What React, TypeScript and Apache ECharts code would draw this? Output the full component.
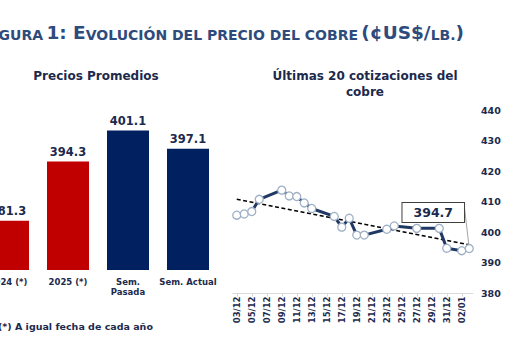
import React, { useEffect, useRef } from 'react';
import * as echarts from 'echarts';

const barCategories = ['2024 (*)', '2025 (*)', 'Sem.\nPasada', 'Sem. Actual'];
const barValues = [381.3, 394.3, 401.1, 397.1];
const barColors = ['#c00000', '#c00000', '#002060', '#002060'];

const dayLabels = [
  '03/12', '04/12', '05/12', '06/12', '07/12', '08/12', '09/12', '10/12',
  '11/12', '12/12', '13/12', '14/12', '15/12', '16/12', '17/12', '18/12',
  '19/12', '20/12', '21/12', '22/12', '23/12', '24/12', '25/12', '26/12',
  '27/12', '28/12', '29/12', '30/12', '31/12', '01/01', '02/01', '03/01',
];
const tradeDays = [
  '03/12', '04/12', '05/12', '06/12', '09/12', '10/12', '11/12', '12/12', '13/12',
  '16/12', '17/12', '18/12', '19/12', '20/12', '23/12', '24/12', '27/12',
  '30/12', '31/12', '02/01', '03/01',
];
const prices = [
  405.6, 406.0, 406.8, 410.8, 413.8, 411.9, 411.7, 409.6, 407.8,
  405.2, 401.7, 404.6, 399.1, 399.1, 401.0, 402.1, 401.3,
  401.3, 394.8, 394.0, 394.7,
];
const trendDays = ['03/12', '03/01'];
const trendValues = [410.8, 395.9];
const yTicks = { min: 380, max: 440, interval: 10 };

const FONT = 'DejaVu Sans';
const TXT = '#1c2a4d';
const SHIFT = 22; // the chart canvas starts 22px left of the page (reference is cropped)

export default function App() {
  const ref = useRef<HTMLDivElement>(null);
  useEffect(() => {
    if (!ref.current) return;
    const chart = echarts.init(ref.current, null, { renderer: 'svg' });
    const lastIdx = dayLabels.indexOf(tradeDays[tradeDays.length - 1]);
    const lastVal = prices[prices.length - 1];
    const priceData = dayLabels.map((d) => {
      const i = tradeDays.indexOf(d);
      if (i < 0) return null;
      if (i === tradeDays.length - 1) {
        return {
          value: prices[i],
          label: {
            show: true,
            position: 'inside',
            offset: [-36, -36],
            formatter: (p: any) => p.value.toFixed(1),
            color: TXT,
            fontFamily: FONT,
            fontWeight: 'bold',
            fontSize: 12.5,
            backgroundColor: '#ffffff',
            borderColor: '#404040',
            borderWidth: 1,
            padding: [3, 11],
          },
        };
      }
      return prices[i];
    });
    const trendData = dayLabels.map((d) => {
      const i = trendDays.indexOf(d);
      return i < 0 ? null : trendValues[i];
    });

    const option: any = {
      animation: false,
      backgroundColor: '#ffffff',
      grid: [
        { left: 0, width: 240, top: 110, height: 160 },
        { left: 233 + SHIFT, width: 240, top: 110, height: 183.5 },
      ],
      xAxis: [
        {
          type: 'category',
          gridIndex: 0,
          data: barCategories,
          axisLine: { show: false },
          axisTick: { show: false },
          axisLabel: {
            color: TXT,
            fontFamily: FONT,
            fontWeight: 'bold',
            fontSize: 8.5,
            margin: 7,
            lineHeight: 10,
            interval: 0,
          },
        },
        {
          type: 'category',
          gridIndex: 1,
          data: dayLabels,
          boundaryGap: true,
          axisLine: { show: true, lineStyle: { color: '#d9d9d9', width: 1 } },
          axisTick: { show: true, interval: 1, alignWithLabel: true, length: 3, lineStyle: { color: '#d9d9d9' } },
          axisLabel: {
            color: TXT,
            fontFamily: FONT,
            fontWeight: 'bold',
            fontSize: 8.5,
            rotate: 90,
            interval: 1,
            margin: 3,
          },
        },
      ],
      yAxis: [
        { type: 'value', gridIndex: 0, min: 370.5, max: 405.6, show: false },
        {
          type: 'value',
          gridIndex: 1,
          position: 'right',
          min: yTicks.min,
          max: yTicks.max,
          interval: yTicks.interval,
          axisLine: { show: false },
          axisTick: { show: false },
          splitLine: { show: false },
          axisLabel: {
            color: TXT,
            fontFamily: FONT,
            fontWeight: 'bold',
            fontSize: 9.5,
            margin: 8,
          },
        },
      ],
      series: [
        {
          type: 'bar',
          xAxisIndex: 0,
          yAxisIndex: 0,
          barWidth: 42,
          data: barValues.map((v, i) => ({ value: v, itemStyle: { color: barColors[i] } })),
          label: {
            show: true,
            position: 'top',
            distance: 4,
            color: TXT,
            fontFamily: FONT,
            fontWeight: 'bold',
            fontSize: 11.5,
            formatter: (p: any) => p.value.toFixed(1),
          },
        },
        {
          type: 'line',
          xAxisIndex: 1,
          yAxisIndex: 1,
          data: trendData,
          connectNulls: true,
          showSymbol: false,
          symbol: 'none',
          lineStyle: { color: '#000000', width: 1.6, type: [4, 2.5] },
          z: 3,
        },
        {
          type: 'line',
          xAxisIndex: 1,
          yAxisIndex: 1,
          data: priceData,
          connectNulls: true,
          symbol: 'circle',
          symbolSize: 8,
          showAllSymbol: true,
          lineStyle: { color: '#1f3864', width: 3 },
          itemStyle: { color: '#ffffff', borderColor: '#9fb0c6', borderWidth: 1.3 },
          z: 4,
        },
      ],
      graphic: [
        {
          type: 'text',
          x: 464 + SHIFT,
          y: 32,
          style: {
            text: '{b|F}{s|IGURA} {b|1: E}{s|VOLUCIÓN DEL PRECIO DEL COBRE} {b|(¢US$/}{s|LB.}{b|)}',
            align: 'right',
            verticalAlign: 'middle',
            fill: '#2e4b7c',
            rich: {
              b: { fontFamily: FONT, fontWeight: 'bold', fontSize: 18.5, lineHeight: 19, verticalAlign: 'bottom', fill: '#2e4b7c' },
              s: { fontFamily: FONT, fontWeight: 'bold', fontSize: 14, lineHeight: 14.5, verticalAlign: 'bottom', fill: '#2e4b7c' },
            },
          },
        },
        {
          type: 'text',
          x: 96 + SHIFT,
          y: 76,
          style: {
            text: 'Precios Promedios',
            align: 'center',
            verticalAlign: 'middle',
            fill: TXT,
            font: `bold 12px "${FONT}"`,
          },
        },
        {
          type: 'text',
          x: 365 + SHIFT,
          y: 84,
          style: {
            text: 'Últimas 20 cotizaciones del\ncobre',
            align: 'center',
            verticalAlign: 'middle',
            lineHeight: 15.7,
            fill: TXT,
            font: `bold 12px "${FONT}"`,
          },
        },
        {
          type: 'text',
          x: -2 + SHIFT,
          y: 326,
          style: {
            text: '(*) A igual fecha de cada año',
            align: 'left',
            verticalAlign: 'middle',
            fill: TXT,
            font: `bold 9.5px "${FONT}"`,
          },
        },
      ],
    };
    chart.setOption(option);

    // leader line from the value box to the last quotation
    const pt = chart.convertToPixel({ xAxisIndex: 1, yAxisIndex: 1 }, [lastIdx, lastVal]) as number[];
    if (pt) {
      chart.setOption({
        graphic: [
          ...option.graphic,
          {
            type: 'line',
            z: 1,
            shape: { x1: pt[0] - 5, y1: pt[1] - 43, x2: pt[0], y2: pt[1] },
            style: { stroke: '#a6a6a6', lineWidth: 1 },
          },
        ],
      });
    }
    return () => chart.dispose();
  }, []);
  return (
    <div
      ref={ref}
      style={{ position: 'absolute', left: -SHIFT, top: 0, width: 510 + SHIFT, height: 351, background: '#fff' }}
    />
  );
}
